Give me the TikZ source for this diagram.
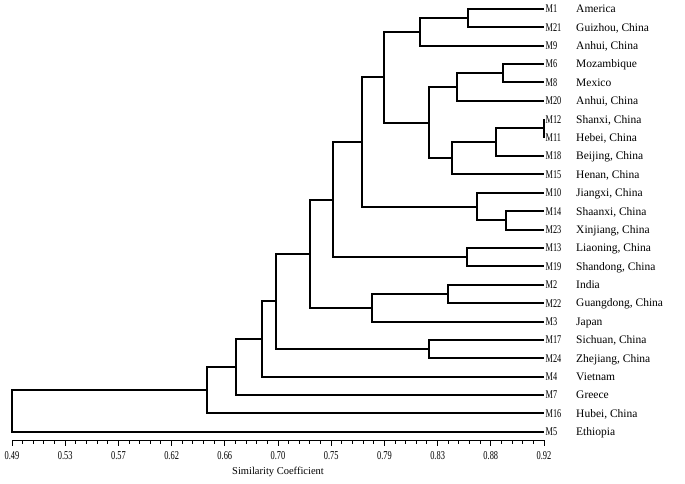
\documentclass[tikz,border=0pt]{standalone}
\usepackage{fontspec}
\setmainfont{Liberation Serif}
\newfontfamily\narrowserif[FakeStretch=0.7]{Liberation Serif}
\usepackage{tikz}

\begin{document}
\begin{tikzpicture}[
  x=1pt, y=-1pt,
  branch/.style={line width=2pt},
  axisline/.style={line width=1pt},
  % accession codes are set condensed, like in the printed figure
  acc/.style={anchor=west,inner xsep=1.5pt,inner ysep=0pt,
              text height=7.8pt,text depth=0pt,
              font=\narrowserif\fontsize{11.8}{13}\selectfont},
  place/.style={anchor=west,inner sep=0pt,text height=7.6pt,text depth=0pt,
                font=\fontsize{11.5}{13}\selectfont},
  num/.style={inner sep=0pt,font=\narrowserif\fontsize{12}{13}\selectfont},
  ]
  \useasboundingbox (0,0) rectangle (685,484);

  % leaves
  \node[acc] (m1)  at (544,9.0)   {M1};
  \node[acc] (m21) at (544,27.4)  {M21};
  \node[acc] (m9)  at (544,45.8)  {M9};
  \node[acc] (m6)  at (544,64.1)  {M6};
  \node[acc] (m8)  at (544,82.5)  {M8};
  \node[acc] (m20) at (544,100.9) {M20};
  \node[acc] (m12) at (544,119.3) {M12};
  \node[acc] (m11) at (544,137.7) {M11};
  \node[acc] (m18) at (544,156.0) {M18};
  \node[acc] (m15) at (544,174.4) {M15};
  \node[acc] (m10) at (544,192.8) {M10};
  \node[acc] (m14) at (544,211.2) {M14};
  \node[acc] (m23) at (544,229.6) {M23};
  \node[acc] (m13) at (544,247.9) {M13};
  \node[acc] (m19) at (544,266.3) {M19};
  \node[acc] (m2)  at (544,284.7) {M2};
  \node[acc] (m22) at (544,303.1) {M22};
  \node[acc] (m3)  at (544,321.5) {M3};
  \node[acc] (m17) at (544,339.8) {M17};
  \node[acc] (m24) at (544,358.2) {M24};
  \node[acc] (m4)  at (544,376.6) {M4};
  \node[acc] (m7)  at (544,395.0) {M7};
  \node[acc] (m16) at (544,413.4) {M16};
  \node[acc] (m5)  at (544,431.7) {M5};

  \node[place] (o1)  at (576,9.0)   {America};
  \node[place] (o21) at (576,27.4)  {Guizhou, China};
  \node[place] (o9)  at (576,45.8)  {Anhui, China};
  \node[place] (o6)  at (576,64.1)  {Mozambique};
  \node[place] (o8)  at (576,82.5)  {Mexico};
  \node[place] (o20) at (576,100.9) {Anhui, China};
  \node[place] (o12) at (576,119.3) {Shanxi, China};
  \node[place] (o11) at (576,137.7) {Hebei, China};
  \node[place] (o18) at (576,156.0) {Beijing, China};
  \node[place] (o15) at (576,174.4) {Henan, China};
  \node[place] (o10) at (576,192.8) {Jiangxi, China};
  \node[place] (o14) at (576,211.2) {Shaanxi, China};
  \node[place] (o23) at (576,229.6) {Xinjiang, China};
  \node[place] (o13) at (576,247.9) {Liaoning, China};
  \node[place] (o19) at (576,266.3) {Shandong, China};
  \node[place] (o2)  at (576,284.7) {India};
  \node[place] (o22) at (576,303.1) {Guangdong, China};
  \node[place] (o3)  at (576,321.5) {Japan};
  \node[place] (o17) at (576,339.8) {Sichuan, China};
  \node[place] (o24) at (576,358.2) {Zhejiang, China};
  \node[place] (o4)  at (576,376.6) {Vietnam};
  \node[place] (o7)  at (576,395.0) {Greece};
  \node[place] (o16) at (576,413.4) {Hubei, China};
  \node[place] (o5)  at (576,431.7) {Ethiopia};

  % joins (x = similarity level, y = middle of the two children)
  \coordinate (jA) at (467.7,18.2);
  \coordinate (jB) at (420.0,32.0);
  \coordinate (jC) at (503.3,73.3);
  \coordinate (jD) at (456.7,87.1);
  \coordinate (jE) at (544.0,128.5);
  \coordinate (jF) at (496.0,142.3);
  \coordinate (jG) at (451.7,158.3);
  \coordinate (jH) at (429.3,122.7);
  \coordinate (jI) at (384.3,77.4);
  \coordinate (jJ) at (505.7,220.4);
  \coordinate (jK) at (476.7,206.6);
  \coordinate (jL) at (361.7,142.0);
  \coordinate (jM) at (467.3,257.1);
  \coordinate (jN) at (332.7,199.5);
  \coordinate (jO) at (448.3,293.9);
  \coordinate (jP) at (371.7,307.7);
  \coordinate (jQ) at (310.0,253.6);
  \coordinate (jR) at (429.3,349.0);
  \coordinate (jS) at (275.7,301.3);
  \coordinate (jT) at (262.3,338.9);
  \coordinate (jU) at (236.3,367.0);
  \coordinate (jV) at (206.7,390.2);
  \coordinate (root) at (12.0,411.0);

  \draw[branch] (m1.west) -| (jA) |- (m21.west);
  \draw[branch] (jA) -| (jB) |- (m9.west);
  \draw[branch] (m6.west) -| (jC) |- (m8.west);
  \draw[branch] (jC) -| (jD) |- (m20.west);
  \draw[branch] (m12.west) -| (jE) |- (m11.west);
  \draw[branch] (jE) -| (jF) |- (m18.west);
  \draw[branch] (jF) -| (jG) |- (m15.west);
  \draw[branch] (jD) -| (jH) |- (jG);
  \draw[branch] (jB) -| (jI) |- (jH);
  \draw[branch] (m14.west) -| (jJ) |- (m23.west);
  \draw[branch] (m10.west) -| (jK) |- (jJ);
  \draw[branch] (jI) -| (jL) |- (jK);
  \draw[branch] (m13.west) -| (jM) |- (m19.west);
  \draw[branch] (jL) -| (jN) |- (jM);
  \draw[branch] (m2.west) -| (jO) |- (m22.west);
  \draw[branch] (jO) -| (jP) |- (m3.west);
  \draw[branch] (jN) -| (jQ) |- (jP);
  \draw[branch] (m17.west) -| (jR) |- (m24.west);
  \draw[branch] (jQ) -| (jS) |- (jR);
  \draw[branch] (jS) -| (jT) |- (m4.west);
  \draw[branch] (jT) -| (jU) |- (m7.west);
  \draw[branch] (jU) -| (jV) |- (m16.west);
  \draw[branch] (jV) -| (root) |- (m5.west);

  % scale
  \coordinate (a0) at (12,440.3);
  \coordinate (a1) at (544,440.3);
  \draw[axisline] (a0) -- (a1);
  \foreach \i in {0,...,50}
    \draw[axisline] ({12+10.64*\i},440.3) -- ++(0,3.4);
  \foreach \k in {0,...,10}
    \draw[axisline] ({12+53.2*\k},440.3) -- ++(0,5.2);
  \foreach \v [count=\k from 0] in {0.49,0.53,0.57,0.62,0.66,0.70,0.75,0.79,0.83,0.88,0.92}
    \node[num] (t\k) at ({12+53.2*\k},456) {\v};
  \node[font=\fontsize{10.5}{12}\selectfont,inner sep=0pt] (xlab) at (278,471.5)
    {Similarity Coefficient};
\end{tikzpicture}
\end{document}
